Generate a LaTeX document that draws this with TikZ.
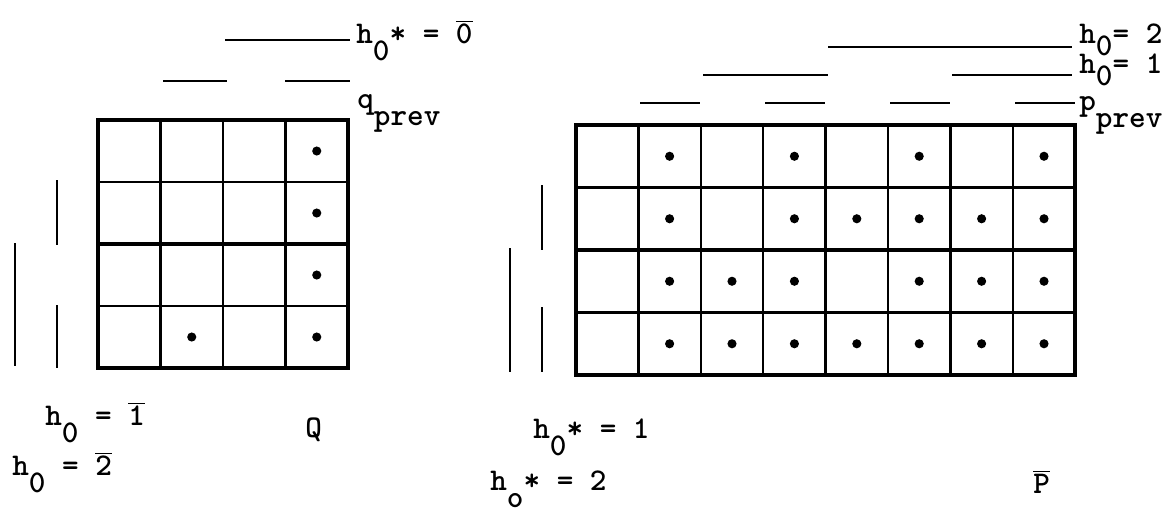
\documentclass[tikz,border=0pt]{standalone}
\usepackage{tikz}
\newcommand{\lo}[2][1.25ex]{\raisebox{-#1}{#2}}
\newcommand{\ob}[1]{$\overline{\mbox{#1}}$}
\tikzset{
  lbl/.style={anchor=base west,inner sep=0pt,font=\fontsize{18}{20}\selectfont\ttfamily\bfseries},
  bar/.style={line width=1.6pt},
  cellln/.style={line width=1.3pt},
  heavy/.style={line width=2.4pt}
}

\begin{document}
\begin{tikzpicture}[x=0.02cm,y=-0.02cm]
  \useasboundingbox (0,0) rectangle (1172,512);
  \foreach \i in {1,2,3}{\draw[cellln]({98+62.5*\i},120)--({98+62.5*\i},368);}
  \foreach \j in {1,3}{\draw[cellln](98,{120+62*\j})--(348,{120+62*\j});}
  \draw[heavy](98,244)--(348,244);
  \draw[heavy](98,120)rectangle(348,368);
  \foreach \c/\r in {4/1,4/2,4/3,4/4,2/4}{\fill({98+62.5*(\c-0.5)},{120+62*(\r-0.5)})circle(2.6pt);}
  \draw[bar](225,40)--(350,40);
  \draw[bar](163,81)--(227,81);\draw[bar](285,81)--(350,81);
  \draw[bar](15,243)--(15,366);
  \draw[bar](57,180)--(57,245);\draw[bar](57,305)--(57,368);
  \node[lbl](qstar) at (356,43){h\lo{0}* = \ob{0}};
  \node[lbl](qprev) at (357,108){q\lo{prev}};
  \node[lbl](qone) at (45,425){h\lo{0} = \ob{1}};
  \node[lbl](qtwo) at (12,475){h\lo{0} = \ob{2}};
  \node[lbl](qname) at (305,437){Q};

  \foreach \i in {1,...,7}{\draw[cellln]({576+62.4*\i},125)--({576+62.4*\i},375);}
  \foreach \j in {1,3}{\draw[cellln](576,{125+62.5*\j})--(1075,{125+62.5*\j});}
  \draw[heavy](576,250)--(1075,250);
  \draw[heavy](576,125)rectangle(1075,375);
  \foreach \c/\r in {2/1,4/1,6/1,8/1,2/2,4/2,5/2,6/2,7/2,8/2,2/3,3/3,4/3,6/3,7/3,8/3,
                     2/4,3/4,4/4,5/4,6/4,7/4,8/4}{\fill({576+62.4*(\c-0.5)},{125+62.5*(\r-0.5)})circle(2.6pt);}
  \draw[bar](828,47)--(1072,47);
  \draw[bar](703,75)--(828,75);\draw[bar](952,75)--(1072,75);
  \foreach \a in {640,765,890,1015}{\draw[bar](\a,103)--({\a+60},103);}
  \draw[bar](510,248)--(510,372);
  \draw[bar](542,185)--(542,250);\draw[bar](542,307)--(542,372);
  \node[lbl](ptwo) at (1079,43){h\lo[0.9ex]{0}= 2};
  \node[lbl](pone) at (1079,73){h\lo[0.9ex]{0}= 1};
  \node[lbl](pprev) at (1079,110){p\lo{prev}};
  \node[lbl](pstar) at (533,438){h\lo{0}* = 1};
  \node[lbl](postar) at (490,490){h\lo{o}* = 2};
  \node[lbl](pname) at (1033,493){\ob{P}};
\end{tikzpicture}
\end{document}
